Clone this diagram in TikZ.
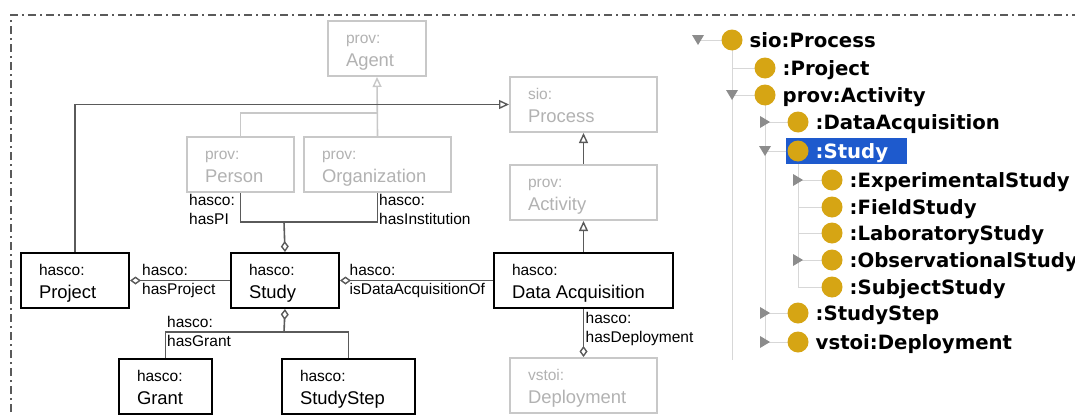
\documentclass[tikz,border=0pt]{standalone}
\usepackage{fontspec}
\setmainfont{Liberation Sans}
\newfontfamily\treefont{DejaVu Sans}
\usetikzlibrary{arrows.meta}
\definecolor{boxgray}{RGB}{200,200,200}
\definecolor{txtgray}{RGB}{178,178,178}
\definecolor{conn}{RGB}{90,90,90}
\definecolor{framec}{RGB}{90,90,90}
\definecolor{gold}{RGB}{214,165,20}
\definecolor{treeline}{RGB}{215,215,215}
\definecolor{togglec}{RGB}{140,140,140}
\definecolor{selblue}{RGB}{30,90,205}
\newcommand\lblfont{\fontsize{15.5}{18}\selectfont}
\newcommand\namefont{\fontsize{18.4}{22}\selectfont}
\newcommand\boxlines[3]{\vbox to 55pt{\offinterlineskip
 \hbox to #1{\hspace{18pt}\rule{0pt}{22.5pt}\smash{\lblfont #2}\hfil}%
 \hbox to #1{\hspace{18pt}\rule{0pt}{22.5pt}\smash{\namefont #3}\hfil}\vfil}}
\newcommand\edgelines[2]{\vbox{\offinterlineskip
 \hbox{\rule{0pt}{12pt}\smash{\lblfont #1}}%
 \hbox{\rule{0pt}{19.5pt}\rule[-4pt]{0pt}{4pt}\smash{\lblfont #2}}}}
\newcommand\tdown[2]{\fill[togglec] ({#1-6},{#2-5}) -- ({#1+6},{#2-5}) -- ({#1},{#2+5}) -- cycle;}
\newcommand\tright[2]{\fill[togglec] ({#1-5},{#2-6}) -- ({#1-5},{#2+6}) -- ({#1+5},{#2}) -- cycle;}
\tikzset{
  hbox/.style={draw=black, line width=2pt, inner sep=0pt, anchor=north west, fill=white},
  gbox/.style={draw=boxgray, text=txtgray, line width=2pt, inner sep=0pt, anchor=north west, fill=white},
  elabel/.style={inner sep=0pt, anchor=north west},
  dlink/.style={draw=conn, line width=1.6pt},
  glink/.style={draw=boxgray, line width=1.6pt},
  isa/.style={-{Triangle[open, length=10pt, width=9pt, line width=1.4pt]}},
  hasdia/.style={{Diamond[open, length=11pt, width=8pt, line width=1.4pt]}-},
  hasdiaend/.style={-{Diamond[open, length=11pt, width=8pt, line width=1.4pt]}},
  tline/.style={draw=treeline, line width=1pt},
  tlabel/.style={inner sep=0pt, anchor=base west, font=\treefont\bfseries\fontsize{19.7}{22}\selectfont},
}
\begin{document}
\begin{tikzpicture}[x=1pt, y=-1pt]
\useasboundingbox (0,0) rectangle (1075,415);
\clip (0,0) rectangle (1075,415);
% frame
\draw[framec, line width=1.2pt, dash pattern=on 8pt off 4pt on 2pt off 4pt] (11,430) -- (11,15) -- (1090,15);

% gray boxes
\node[gbox] (agent) at (327,20) {\boxlines{98pt}{prov:}{Agent}};
\node[gbox] (process) at (509,76) {\boxlines{147pt}{sio:}{Process}};
\node[gbox] (activity) at (509,164) {\boxlines{147pt}{prov:}{Activity}};
\node[gbox] (person) at (186,136) {\boxlines{107pt}{prov:}{Person}};
\node[gbox] (org) at (303,136) {\boxlines{147pt}{prov:}{Organization}};
\node[gbox] (deploy) at (509,357) {\boxlines{147pt}{vstoi:}{Deployment}};
% main boxes
\node[hbox] (project) at (20,252) {\boxlines{108pt}{hasco:}{Project}};
\node[hbox] (study) at (230,252) {\boxlines{108pt}{hasco:}{Study}};
\node[hbox] (dataacq) at (493,252) {\boxlines{179pt}{hasco:}{Data Acquisition}};
\node[hbox] (grant) at (118,358) {\boxlines{93pt}{hasco:}{Grant}};
\node[hbox] (step) at (281,358) {\boxlines{133pt}{hasco:}{StudyStep}};

% gray connectors
\coordinate (agj) at (376.5,113);
\draw[glink] (person.north) |- (agj);
\draw[glink, isa] (org.north) -- (agent.south);
% dark connectors
\draw[dlink, isa] (project.north) |- (process.west);
\draw[dlink, isa] (activity.north) -- (process.south);
\draw[dlink, isa] (dataacq.north) -- (activity.south);
\coordinate (pij) at (284,222);
\draw[dlink] (person.south) |- (pij) -| (org.south);
\draw[dlink, hasdia] (study.north) -- (pij);
\draw[dlink, hasdia] (project.east) -- (study.west);
\draw[dlink, hasdia] (study.east) -- (dataacq.west);
\coordinate (gj) at (284,332);
\draw[dlink, hasdia] (study.south) -- (gj);
\draw[dlink] (grant.north) |- (gj) -| (step.north);
\draw[dlink, hasdiaend] (dataacq.south) -- (deploy.north);

% edge labels
\node[elabel] (lpi) at (189,193) {\edgelines{hasco:}{hasPI}};
\node[elabel] (linst) at (379,193) {\edgelines{hasco:}{hasInstitution}};
\node[elabel] (lproj) at (142,263) {\edgelines{hasco:}{hasProject}};
\node[elabel] (ldaq) at (349.5,263) {\edgelines{hasco:}{isDataAcquisitionOf}};
\node[elabel] (lgrant) at (167,315) {\edgelines{hasco:}{hasGrant}};
\node[elabel] (ldep) at (585.5,311) {\edgelines{hasco:}{hasDeployment}};

% tree lines
\draw[tline] (732,40) -- (732,360);
\draw[tline] (765,95) -- (765,342);
\draw[tline] (798,151) -- (798,287);
\draw[tline] (698,40) -- (732,40);
\draw[tline] (732,68) -- (765,68);
\draw[tline] (732,95) -- (765,95);
\draw[tline] (765,122) -- (798,122);
\draw[tline] (765,151) -- (798,151);
\draw[tline] (798,180) -- (832,180);
\draw[tline] (798,207) -- (832,207);
\draw[tline] (798,233) -- (832,233);
\draw[tline] (798,260) -- (832,260);
\draw[tline] (798,287) -- (832,287);
\draw[tline] (765,313) -- (798,313);
\draw[tline] (765,342) -- (798,342);
% selection
\fill[selblue] (786,138) rectangle (907,164);
% toggles
\tdown{698}{40}
\tdown{732}{95}
\tright{765}{122}
\tdown{765}{151}
\tright{798}{180}
\tright{798}{260}
\tright{765}{313}
\tright{765}{342}
% circles
\foreach \cx/\cy in {732/40, 765/68, 765/95, 798/122, 798/151, 832/180, 832/207, 832/233, 832/260, 832/287, 798/313, 798/342}
  \fill[gold] (\cx,\cy) circle (10.5);
% tree labels
\node[tlabel] (t1) at (749.5,47.5) {sio:Process};
\node[tlabel] (t2) at (782.5,75.5) {:Project};
\node[tlabel] (t3) at (782.5,102.5) {prov:Activity};
\node[tlabel] (t4) at (815.5,129.5) {:DataAcquisition};
\node[tlabel, text=white] (t5) at (815.5,158.5) {:Study};
\node[tlabel] (t6) at (849.5,187.5) {:ExperimentalStudy};
\node[tlabel] (t7) at (849.5,214.5) {:FieldStudy};
\node[tlabel] (t8) at (849.5,240.5) {:LaboratoryStudy};
\node[tlabel] (t9) at (849.5,267.5) {:ObservationalStudy};
\node[tlabel] (t10) at (849.5,294.5) {:SubjectStudy};
\node[tlabel] (t11) at (815.5,320.5) {:StudyStep};
\node[tlabel] (t12) at (815.5,349.5) {vstoi:Deployment};
\end{tikzpicture}
\end{document}
